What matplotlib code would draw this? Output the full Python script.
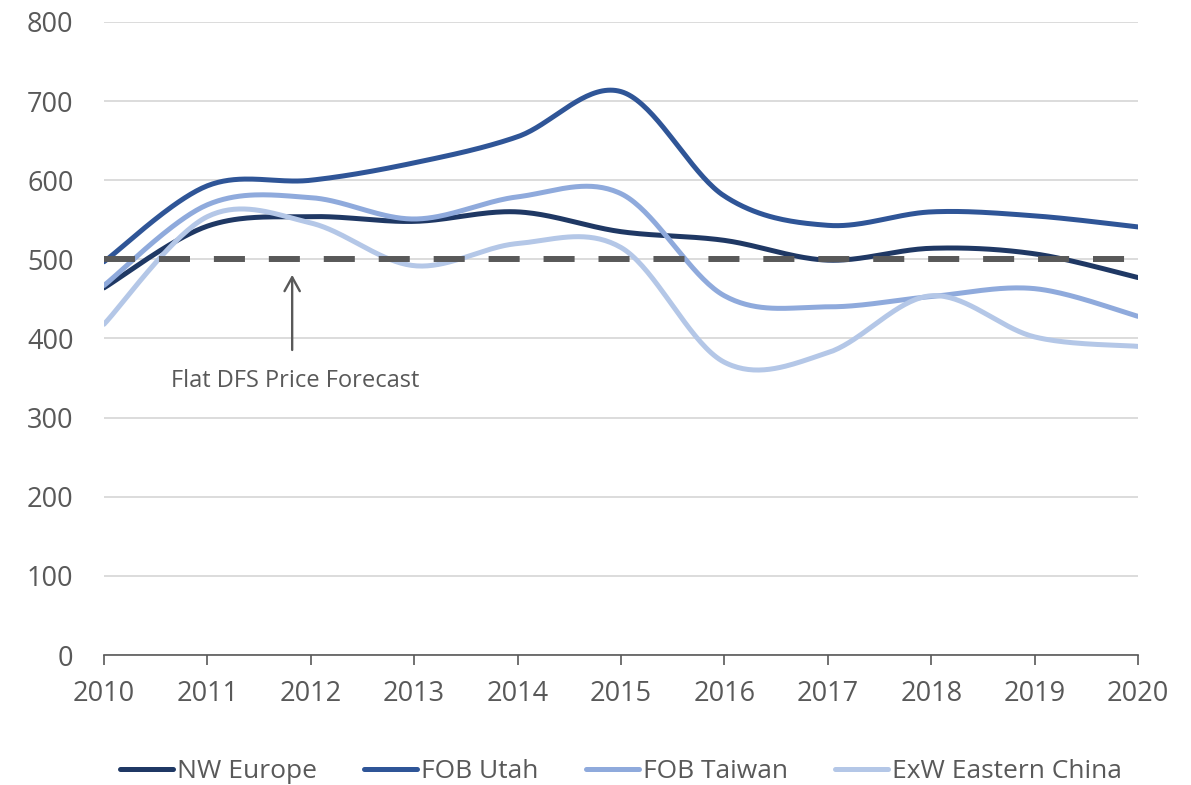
import numpy as np
import matplotlib
matplotlib.use("Agg")
import matplotlib.pyplot as plt

# data (yearly points, drawn as smoothed lines)
years = [2010, 2011, 2012, 2013, 2014, 2015, 2016, 2017, 2018, 2019, 2020]
nw_europe = [464, 542, 554, 548, 560, 535, 524, 499, 514, 507, 477]
fob_utah = [497, 593, 600, 622, 655, 712, 580, 543, 560, 555, 541]
fob_taiwan = [467, 569, 578, 551, 579, 583, 454, 440, 453, 463, 428]
exw_china = [418, 554, 546, 492, 520, 515, 370, 382, 454, 402, 390]
flat_forecast = 500

series_names = ["NW Europe", "FOB Utah", "FOB Taiwan", "ExW Eastern China"]
series_values = [nw_europe, fob_utah, fob_taiwan, exw_china]
colors = ["#1F3864", "#2F5597", "#8FAADC", "#B4C7E7"]
gray = "#595959"


def smooth(x, y, n=40):
    # catmull-rom style bezier, like excel's "smoothed line"
    x = np.asarray(x, float)
    y = np.asarray(y, float)
    px = np.concatenate([[x[0]], x, [x[-1]]])
    py = np.concatenate([[y[0]], y, [y[-1]]])
    xs, ys = [], []
    t = np.linspace(0, 1, n)
    for i in range(1, len(px) - 2):
        p0 = np.array([px[i], py[i]])
        p3 = np.array([px[i + 1], py[i + 1]])
        c1 = p0 + (p3 - np.array([px[i - 1], py[i - 1]])) / 6
        c2 = p3 - (np.array([px[i + 2], py[i + 2]]) - p0) / 6
        b = ((1 - t) ** 3)[:, None] * p0 + (3 * (1 - t) ** 2 * t)[:, None] * c1 \
            + (3 * (1 - t) * t ** 2)[:, None] * c2 + (t ** 3)[:, None] * p3
        xs.extend(b[:, 0])
        ys.extend(b[:, 1])
    return np.array(xs), np.array(ys)


plt.rcParams['font.family'] = ['Open Sans', 'DejaVu Sans']

fig = plt.figure(figsize=(11.91, 7.85), dpi=100)
ax = fig.add_axes([0.0873, 0.1656, 0.8682, 0.8064])

for name, vals, c in zip(series_names, series_values, colors):
    sx, sy = smooth(years, vals)
    ax.plot(sx, sy, color=c, lw=3.6, label=name, solid_capstyle='round', zorder=3)

ax.plot([years[0], years[-1]], [flat_forecast, flat_forecast], color=gray,
        lw=4.3, dashes=(5.2, 4.0), zorder=4)

ax.annotate("", xy=(2011.82, 484), xytext=(2011.82, 382),
            arrowprops=dict(arrowstyle="->,head_width=0.55,head_length=1.0",
                            color=gray, lw=1.7))
ax.text(2011.85, 346, "Flat DFS Price Forecast", ha='center', va='center',
        fontsize=17, color=gray)

ax.set_xlim(2010, 2020)
ax.set_ylim(0, 800)
ax.set_xticks(years)
ax.set_yticks(range(0, 801, 100))
ax.tick_params(axis='x', colors=gray, labelsize=19.5, length=7, width=1.2,
               direction='out', pad=11)
ax.tick_params(axis='y', colors=gray, labelsize=19.5, length=0, pad=22)
ax.grid(axis='y', color='#D9D9D9', lw=1.3)
ax.set_axisbelow(True)
for s in ['top', 'right', 'left']:
    ax.spines[s].set_visible(False)
ax.spines['bottom'].set_color(gray)
ax.spines['bottom'].set_linewidth(1.2)

ax.legend(loc='upper center', bbox_to_anchor=(0.5, -0.127), ncol=4,
          frameon=False, fontsize=19, labelcolor=gray, handlelength=2.0,
          handletextpad=0.15, columnspacing=1.8)

plt.savefig('out.png', dpi=100)
